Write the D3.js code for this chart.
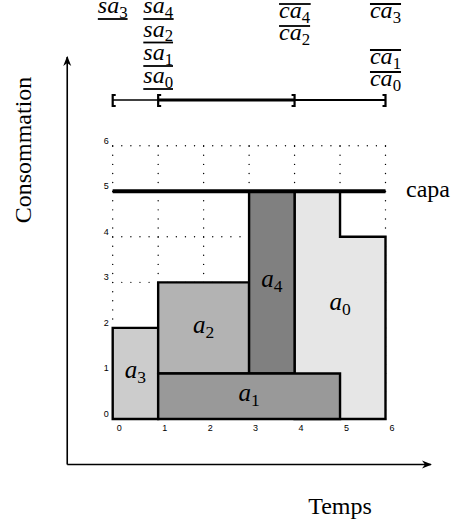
<!DOCTYPE html>
<html><head><meta charset="utf-8">
<script src="https://cdn.jsdelivr.net/npm/d3@7"></script>
<style>body{margin:0;background:#fff}svg{display:block}</style>
</head><body>
<svg id="c" width="456" height="524"></svg>
<script>
// ---- data ----
const ticks = [0,1,2,3,4,5,6];
const capacity = 5;
// activities: name, subscript, polygon in (time, consumption) units, gray fill
const actNames = ["a","a","a","a","a"];
const actSubs  = ["0","3","2","4","1"];
const actShapes = [
  [[4,0],[6,0],[6,4],[5,4],[5,5],[4,5]],
  [[0,0],[1,0],[1,2],[0,2]],
  [[1,1],[3,1],[3,3],[1,3]],
  [[3,1],[4,1],[4,5],[3,5]],
  [[1,0],[5,0],[5,1],[1,1]]
];
const actFills = ["#e6e6e6","#cccccc","#b3b3b3","#808080","#999999"];
const actLabelPos = [[5,2.5],[0.5,1],[2,2],[3.5,3],[3,0.5]];
// bound labels above chart
const boundBase  = ["sa","sa","sa","sa","sa","ca","ca","ca","ca","ca"];
const boundSub   = ["3","4","2","1","0","4","2","3","1","0"];
const boundTime  = [0,1,1,1,1,4,4,6,6,6];
const boundRow   = [0,0,1,2,3,0,1,0,2,3];
// intervals on the bracket row
const intervals = [[0,1],[1,4],[4,6]];
const intervalWeight = [1.5,3,2];

// ---- drawing ----
const svg = d3.select("#c");
const x = d3.scaleLinear().domain([0,6]).range([112.7,385.5]);
const y = d3.scaleLinear().domain([0,6]).range([419,145.7]);
const serif = "Liberation Serif, Times New Roman, serif";
const sans = "Liberation Sans, Arial, sans-serif";

// arrow marker
svg.append("defs").append("marker").attr("id","arr")
  .attr("viewBox","0 0 10 10").attr("refX",9).attr("refY",5)
  .attr("markerWidth",10).attr("markerHeight",10).attr("markerUnits","userSpaceOnUse")
  .attr("orient","auto")
  .append("path").attr("d","M0,1 L10,5 L0,9 L3,5 Z").attr("fill","#000");

// axes
svg.append("line").attr("x1",x(-1)).attr("y1",y(-1)).attr("x2",x(-1)).attr("y2",y(7.95))
  .attr("stroke","#000").attr("stroke-width",1.6).attr("marker-end","url(#arr)");
svg.append("line").attr("x1",x(-1)).attr("y1",y(-1)).attr("x2",x(7.0)).attr("y2",y(-1))
  .attr("stroke","#000").attr("stroke-width",1.6).attr("marker-end","url(#arr)");

// dotted grid
const step = (x(1)-x(0))/5;
const grid = svg.append("g").attr("stroke","#000").attr("stroke-width",1.4)
  .attr("stroke-linecap","round").attr("stroke-dasharray",`0 ${step}`);
grid.selectAll(".v").data(ticks).join("line").attr("class","v")
  .attr("x1",d=>x(d)).attr("x2",d=>x(d)).attr("y1",y(0)).attr("y2",y(6));
grid.selectAll(".h").data(ticks).join("line").attr("class","h")
  .attr("y1",d=>y(d)).attr("y2",d=>y(d)).attr("x1",x(0)).attr("x2",x(6));

// tick labels
svg.selectAll(".yl").data(ticks).join("text").attr("class","yl")
  .attr("x",x(0)-6.5).attr("y",d=>y(d)-2).attr("text-anchor","middle")
  .style("font-family",sans).attr("font-size",9).text(d=>d);
svg.selectAll(".xl").data(ticks).join("text").attr("class","xl")
  .attr("x",d=>x(d)+6.5).attr("y",y(0)+11.5).attr("text-anchor","middle")
  .style("font-family",sans).attr("font-size",9).text(d=>d);

// activities
const line = d3.line().x(d=>x(d[0])).y(d=>y(d[1]));
svg.selectAll(".act").data(actShapes).join("path").attr("class","act")
  .attr("d",d=>line(d)+"Z").attr("fill",(d,i)=>actFills[i])
  .attr("stroke","#000").attr("stroke-width",2.4).attr("stroke-linejoin","miter");

function mathLabel(sel, base, sub, size){
  sel.append("tspan").attr("font-style","italic").text(base);
  sel.append("tspan").attr("dy",size*0.2).attr("font-size",size*0.7).text(sub);
}
actNames.forEach((n,i)=>{
  const t = svg.append("text").attr("x",x(actLabelPos[i][0])).attr("y",y(actLabelPos[i][1])+5)
    .attr("text-anchor","middle").style("font-family",serif).attr("font-size",25);
  mathLabel(t,n,actSubs[i],25);
});

// capacity line
svg.append("line").attr("x1",x(0)).attr("x2",x(6)).attr("y1",y(capacity)).attr("y2",y(capacity))
  .attr("stroke","#000").attr("stroke-width",4);
svg.append("text").attr("x",406).attr("y",y(capacity)+6).style("font-family",serif)
  .attr("font-size",24).text("capa");

// axis titles
svg.append("text").attr("transform","translate(31,150) rotate(-90)").attr("text-anchor","middle")
  .style("font-family",serif).attr("font-size",24).text("Consommation");
svg.append("text").attr("x",340).attr("y",514).attr("text-anchor","middle")
  .style("font-family",serif).attr("font-size",24).text("Temps");

// bound labels
const rowBaseS = [13,36.5,60,83];
const rowBaseC = [18,40,64,86];
boundBase.forEach((b,i)=>{
  const isS = b==="sa";
  const by = (isS?rowBaseS:rowBaseC)[boundRow[i]];
  const t = svg.append("text").attr("x",x(boundTime[i])).attr("y",by)
    .attr("text-anchor","middle").style("font-family",serif).attr("font-size",24);
  mathLabel(t,b,boundSub[i],24);
  const bb = t.node().getBBox();
  const ly = isS ? by+6 : by-14;
  svg.append("line").attr("x1",bb.x).attr("x2",bb.x+bb.width).attr("y1",ly).attr("y2",ly)
    .attr("stroke","#000").attr("stroke-width",1.8);
});

// interval brackets
const by0 = 100;
intervals.forEach((iv,i)=>{
  svg.append("line").attr("x1",x(iv[0])).attr("x2",x(iv[1])).attr("y1",by0).attr("y2",by0)
    .attr("stroke","#000").attr("stroke-width",intervalWeight[i]);
});
const brackets = [[0,1],[1,1],[4,-1],[6,-1]];
brackets.forEach(b=>{
  const bx = x(b[0]);
  svg.append("path").attr("d",`M${bx+b[1]*3},${by0-5} H${bx} V${by0+6} H${bx+b[1]*3}`)
    .attr("fill","none").attr("stroke","#000").attr("stroke-width",2.2);
});
</script>
</body></html>
